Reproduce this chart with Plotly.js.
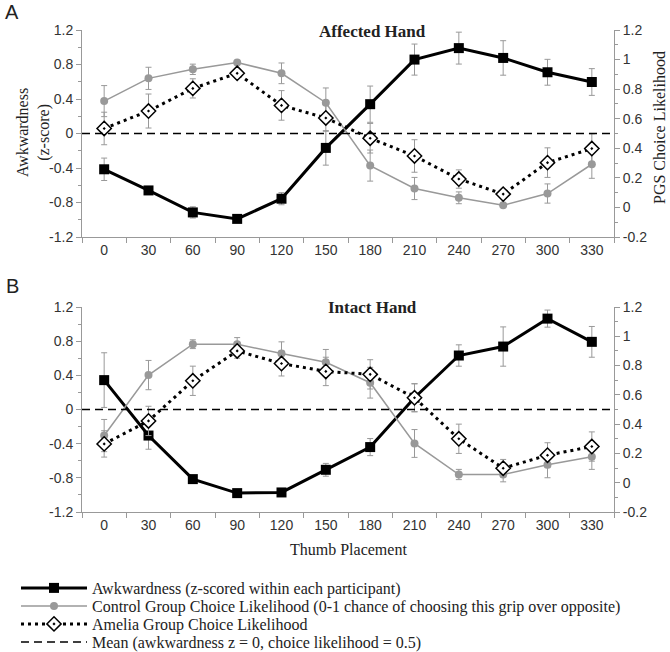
<!DOCTYPE html>
<html>
<head>
<meta charset="utf-8">
<script src="https://cdn.plot.ly/plotly-3.0.1.min.js"></script>
<style>html,body{margin:0;padding:0;background:#fff}#chart{width:670px;height:652px}</style>
</head>
<body>
<div id="chart"></div>
<script>
// ---- data ----
const thumbPlacement = ['0','30','60','90','120','150','180','210','240','270','300','330'];

// Panel A: Affected Hand
const awkA     = [-0.415, -0.66, -0.915, -0.99, -0.756, -0.167, 0.34, 0.857, 0.99, 0.876, 0.71, 0.597];
const awkAErr  = [0.13, 0.04, 0.065, 0.03, 0.07, 0.2, 0.21, 0.18, 0.185, 0.2, 0.15, 0.155];
const ctrlA    = [0.719, 0.873, 0.934, 0.98, 0.907, 0.708, 0.283, 0.128, 0.065, 0.015, 0.094, 0.292];
const ctrlAErr = [0.105, 0.075, 0.035, 0.01, 0.07, 0.1, 0.105, 0.075, 0.04, 0.01, 0.065, 0.095];
const amelA    = [0.534, 0.652, 0.805, 0.907, 0.69, 0.605, 0.468, 0.348, 0.192, 0.09, 0.303, 0.398];
const amelAErr = [0.11, 0.115, 0.065, 0.03, 0.1, 0.09, 0.1, 0.11, 0.062, 0.03, 0.1, 0.1];

// Panel B: Intact Hand
const awkB     = [0.344, -0.305, -0.815, -0.979, -0.971, -0.706, -0.44, 0.138, 0.632, 0.737, 1.064, 0.792];
const awkBErr  = [0.32, 0.16, 0.03, 0.03, 0.03, 0.075, 0.1, 0.165, 0.125, 0.23, 0.1, 0.18];
const ctrlB    = [0.322, 0.735, 0.946, 0.946, 0.882, 0.823, 0.683, 0.268, 0.056, 0.056, 0.122, 0.177];
const ctrlBErr = [0.11, 0.1, 0.03, 0.045, 0.08, 0.087, 0.105, 0.095, 0.035, 0.05, 0.088, 0.086];
const amelB    = [0.265, 0.422, 0.696, 0.9, 0.814, 0.76, 0.74, 0.58, 0.30, 0.099, 0.188, 0.247];
const amelBErr = [0.09, 0.1, 0.1, 0.05, 0.085, 0.097, 0.1, 0.095, 0.1, 0.06, 0.085, 0.1];

// Mean reference (awkwardness z = 0)
const meanX = [-0.5, 11.5];
const meanZ = [0, 0];

// Tick labels
const leftTickVals  = [-1.2, -0.8, -0.4, 0, 0.4, 0.8, 1.2];
const leftTickText  = ['-1.2', '-0.8', '-0.4', '0', '0.4', '0.8', '1.2'];
const rightTickVals = [-0.2, 0, 0.2, 0.4, 0.6, 0.8, 1, 1.2];
const rightTickText = ['-0.2', '0', '0.2', '0.4', '0.6', '0.8', '1', '1.2'];

// Text
const legendNames = [
  'Awkwardness (z-scored within each participant)',
  'Control Group Choice Likelihood (0-1 chance of choosing this grip over opposite)',
  'Amelia Group Choice Likelihood',
  'Mean (awkwardness z = 0, choice likelihood = 0.5)'
];

// ---- styles ----
const GREY = '#999999';
const errStyle = arr => ({type: 'data', array: arr, visible: true, color: GREY, thickness: 1, width: 3});

function panelTraces(xa, yl, yr, xm, awk, awkE, ctrl, ctrlE, amel, amelE, showLeg) {
  return [
    {x: thumbPlacement, y: ctrl, error_y: errStyle(ctrlE), xaxis: xa, yaxis: yr,
     type: 'scatter', mode: 'lines+markers', name: legendNames[1], legend: 'legend2', showlegend: showLeg,
     line: {color: GREY, width: 1.5}, marker: {symbol: 'circle', size: 8, color: GREY}},
    {x: thumbPlacement, y: amel, error_y: errStyle(amelE), xaxis: xa, yaxis: yr,
     type: 'scatter', mode: 'lines+markers', name: legendNames[2], legend: 'legend3', showlegend: showLeg,
     line: {color: '#000', width: 3, dash: '3px,4px'},
     marker: {symbol: 'diamond-dot', size: 11, color: '#fff', line: {color: '#000', width: 1.5}}},
    {x: thumbPlacement, y: awk, error_y: errStyle(awkE), xaxis: xa, yaxis: yl,
     type: 'scatter', mode: 'lines+markers', name: legendNames[0], legend: 'legend', showlegend: showLeg,
     line: {color: '#000', width: 3}, marker: {symbol: 'square', size: 10, color: '#000'}},
    {x: meanX, y: meanZ, xaxis: xm, yaxis: yl, type: 'scatter', mode: 'lines',
     name: legendNames[3], legend: 'legend4', showlegend: showLeg,
     line: {color: '#000', width: 1.5, dash: '8px,5px'}}
  ];
}

const data = [].concat(
  panelTraces('x', 'y', 'y2', 'x3', awkA, awkAErr, ctrlA, ctrlAErr, amelA, amelAErr, true),
  panelTraces('x2', 'y3', 'y4', 'x4', awkB, awkBErr, ctrlB, ctrlBErr, amelB, amelBErr, false)
);

const tickFont = {family: 'Liberation Sans, Arial, sans-serif', size: 14, color: '#333'};
const serif = 'Liberation Serif, Times New Roman, serif';

const xCat = (anchor) => ({
  type: 'category', anchor: anchor, range: [-0.5, 11.5], domain: [0, 1],
  showline: true, linecolor: GREY, linewidth: 1, showgrid: false, zeroline: false,
  ticks: 'outside', tickson: 'boundaries', ticklen: 5, tickcolor: GREY, tickfont: tickFont
});
const yLeft = (dom, anchor) => ({
  domain: dom, anchor: anchor, range: [-1.2, 1.2], tickvals: leftTickVals, ticktext: leftTickText,
  showline: true, linecolor: GREY, showgrid: false, zeroline: false,
  ticks: 'outside', ticklen: 5, tickcolor: GREY, tickfont: tickFont,
  minor: {dtick: 0.2, tick0: 0, ticks: 'outside', ticklen: 3, tickcolor: GREY, showgrid: false}
});
const yRight = (over, anchor) => ({
  overlaying: over, side: 'right', anchor: anchor, range: [-0.2, 1.2],
  tickvals: rightTickVals, ticktext: rightTickText,
  showline: true, linecolor: GREY, showgrid: false, zeroline: false,
  ticks: 'outside', ticklen: 5, tickcolor: GREY, tickfont: tickFont,
  minor: {dtick: 0.1, tick0: 0, ticks: 'outside', ticklen: 3, tickcolor: GREY, showgrid: false}
});
const xMean = (over, anchor) => ({overlaying: over, anchor: anchor, range: [-0.5, 11.5], visible: false});

// plot area: x 82..614, y 30..512 (height 482)
const py = p => (512 - p) / 482;
const px = p => (p - 82) / 532;
const legendAt = (rowY) => ({
  x: px(16), y: py(rowY), xanchor: 'left', yanchor: 'middle', orientation: 'v',
  font: {family: serif, size: 16, color: '#222'}, itemwidth: 66,
  bgcolor: 'rgba(0,0,0,0)', borderwidth: 0
});

const layout = {
  width: 670, height: 652,
  margin: {l: 82, r: 56, t: 30, b: 140, autoexpand: false},
  paper_bgcolor: '#fff', plot_bgcolor: '#fff',
  showlegend: true,
  legend: legendAt(588),
  legend2: legendAt(606),
  legend3: legendAt(624),
  legend4: legendAt(642),
  xaxis: xCat('y'),
  xaxis2: xCat('y3'),
  xaxis3: xMean('x', 'y'),
  xaxis4: xMean('x2', 'y3'),
  yaxis: yLeft([py(237), 1], 'x'),
  yaxis2: yRight('y', 'x'),
  yaxis3: yLeft([0, py(307)], 'x2'),
  yaxis4: yRight('y3', 'x2'),
  annotations: [
    {text: 'A', xref: 'paper', yref: 'paper', x: px(12), y: py(12), xanchor: 'center', yanchor: 'middle',
     showarrow: false, font: {family: 'Liberation Sans, Arial, sans-serif', size: 20, color: '#222'}},
    {text: 'B', xref: 'paper', yref: 'paper', x: px(12), y: py(286), xanchor: 'center', yanchor: 'middle',
     showarrow: false, font: {family: 'Liberation Sans, Arial, sans-serif', size: 20, color: '#222'}},
    {text: '<b>Affected Hand</b>', xref: 'paper', yref: 'paper', x: px(372), y: py(32), xanchor: 'center', yanchor: 'middle',
     showarrow: false, font: {family: serif, size: 17, color: '#222'}},
    {text: '<b>Intact Hand</b>', xref: 'paper', yref: 'paper', x: px(372), y: py(307), xanchor: 'center', yanchor: 'middle',
     showarrow: false, font: {family: serif, size: 17, color: '#222'}},
    {text: 'Awkwardness<br>(z-score)', xref: 'paper', yref: 'paper', x: px(33), y: py(133), xanchor: 'center', yanchor: 'middle',
     textangle: -90, showarrow: false, font: {family: serif, size: 16, color: '#222'}},
    {text: 'PGS Choice Likelihood', xref: 'paper', yref: 'paper', x: px(659), y: py(128), xanchor: 'center', yanchor: 'middle',
     textangle: -90, showarrow: false, font: {family: serif, size: 16, color: '#222'}},
    {text: 'Thumb Placement', xref: 'paper', yref: 'paper', x: 0.5, y: py(549), xanchor: 'center', yanchor: 'middle',
     showarrow: false, font: {family: serif, size: 16, color: '#222'}}
  ]
};

Plotly.newPlot('chart', data, layout, {displayModeBar: false, staticPlot: true});
</script>
</body>
</html>
